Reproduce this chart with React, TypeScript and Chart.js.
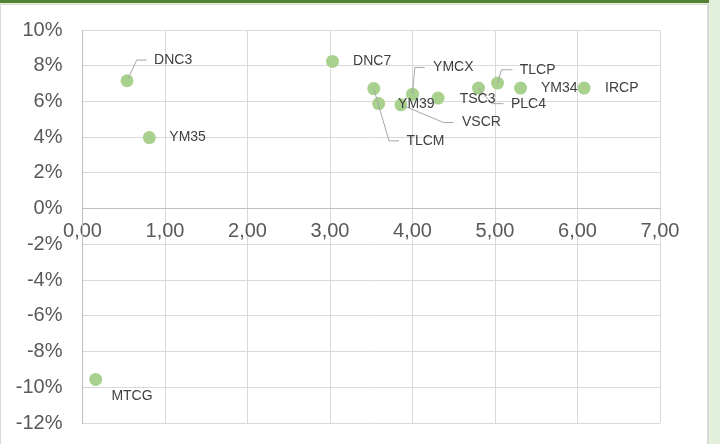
import React, { useEffect, useRef } from "react";
import { Chart, registerables } from "chart.js";

Chart.register(...registerables);

// ---- data ----
const pointLabels = ["DNC3", "YM35", "DNC7", "TLCM", "YM39", "VSCR", "YMCX", "TSC3", "PLC4", "TLCP", "YM34", "IRCP", "MTCG"];
const xValues = [0.54, 0.81, 3.03, 3.53, 3.59, 3.86, 4.0, 4.31, 4.8, 5.03, 5.31, 6.08, 0.16];
const yValues = [7.16, 3.98, 8.24, 6.72, 5.88, 5.81, 6.41, 6.19, 6.75, 7.03, 6.75, 6.75, -9.56];
const xAxisMin = 0;
const xAxisMax = 7;
const xAxisStep = 1;
const yAxisMin = -12;
const yAxisMax = 10;
const yAxisStep = 2;

// ---- label placement (style only, pixel offsets from each point) ----
type LabelStyle = { dx: number; dy: number; leader?: [number, number][] };
const labelStyles: LabelStyle[] = [
  { dx: 27, dy: -20.7, leader: [[1, -2], [9.7, -20.7], [19.7, -20.7]] },
  { dx: 20, dy: 0 },
  { dx: 20.6, dy: 0 },
  { dx: 32.7, dy: 52.3, leader: [[0, 0], [15.3, 52.3], [25.3, 52.3]] },
  { dx: 19.4, dy: 0.6 },
  { dx: 61, dy: 17.7, leader: [[4, 1.5], [42.6, 17.7], [52.6, 17.7]] },
  { dx: 20.6, dy: -26.6, leader: [[0, 0], [2.3, -26.6], [12.3, -26.6]] },
  { dx: 21.6, dy: 1 },
  { dx: 32.4, dy: 15.6, leader: [[0, 0], [13.4, 15.6], [25, 15.6]] },
  { dx: 22.3, dy: -13.3, leader: [[0, 0], [4, -13.3], [15, -13.3]] },
  { dx: 20.3, dy: 0 },
  { dx: 21, dy: 0 },
  { dx: 15.7, dy: 17 },
];

const FONT = "'Liberation Sans', Arial, sans-serif";

const labelPlugin = {
  id: "pointLabels",
  afterDatasetsDraw(chart: any) {
    const meta = chart.getDatasetMeta(0);
    const ctx = chart.ctx;
    ctx.save();
    ctx.strokeStyle = "#a6a6a6";
    ctx.lineWidth = 1;
    meta.data.forEach((el: any, i: number) => {
      const st = labelStyles[i];
      if (st && st.leader) {
        ctx.beginPath();
        st.leader.forEach(([lx, ly], k) => {
          if (k === 0) ctx.moveTo(el.x + lx, el.y + ly);
          else ctx.lineTo(el.x + lx, el.y + ly);
        });
        ctx.stroke();
      }
    });
    ctx.fillStyle = "#404040";
    ctx.font = `14px ${FONT}`;
    ctx.textAlign = "left";
    ctx.textBaseline = "middle";
    meta.data.forEach((el: any, i: number) => {
      const st = labelStyles[i];
      ctx.fillText(pointLabels[i], el.x + st.dx, el.y + st.dy);
    });
    ctx.restore();
  },
};

export default function App() {
  const ref = useRef<HTMLCanvasElement | null>(null);

  useEffect(() => {
    if (!ref.current) return;
    const points = xValues.map((x, i) => ({ x, y: yValues[i] }));
    const chart = new Chart(ref.current, {
      type: "scatter",
      data: {
        datasets: [
          {
            data: points,
            backgroundColor: "#a9d18e",
            borderWidth: 0,
            pointRadius: 6.5,
            pointHoverRadius: 6.5,
          },
        ],
      },
      options: {
        responsive: false,
        animation: false,
        events: [],
        layout: { padding: { left: 0, right: 60, top: 26, bottom: 22 } },
        plugins: { legend: { display: false }, tooltip: { enabled: false } },
        scales: {
          x: {
            type: "linear",
            position: { y: 0 } as any,
            min: xAxisMin,
            max: xAxisMax,
            grid: { color: "#d9d9d9", lineWidth: 1, drawTicks: false },
            border: { color: "#bfbfbf", width: 1 },
            ticks: {
              stepSize: xAxisStep,
              padding: 11,
              color: "#595959",
              font: { family: FONT, size: 20 },
              callback: (v: any) => Number(v).toFixed(2).replace(".", ","),
            },
          },
          y: {
            type: "linear",
            position: "left",
            min: yAxisMin,
            max: yAxisMax,
            grid: { color: "#d9d9d9", lineWidth: 1, drawTicks: false },
            border: { color: "#bfbfbf", width: 1 },
            afterFit: (s: any) => {
              s.width = 82.5;
            },
            ticks: {
              stepSize: yAxisStep,
              padding: 20,
              color: "#595959",
              font: { family: FONT, size: 20 },
              callback: (v: any) => `${v}%`,
            },
          },
        },
      },
      plugins: [labelPlugin],
    });
    return () => chart.destroy();
  }, []);

  return (
    <div style={{ position: "fixed", left: 0, top: 0, width: 720, height: 444, background: "#e2efda", overflow: "hidden" }}>
      <div style={{ position: "absolute", left: 0, top: 0, width: 709, height: 3, background: "#548235" }} />
      <div
        style={{
          position: "absolute",
          left: 0,
          top: 4,
          width: 709,
          height: 440,
          background: "#ffffff",
          borderLeft: "1px solid #d9d9d9",
          borderTop: "1px solid #d9d9d9",
          borderRight: "2px solid #d9d9d9",
          boxSizing: "border-box",
        }}
      />
      <canvas ref={ref} width={720} height={457} style={{ position: "absolute", left: 0, top: -2 }} />
    </div>
  );
}
